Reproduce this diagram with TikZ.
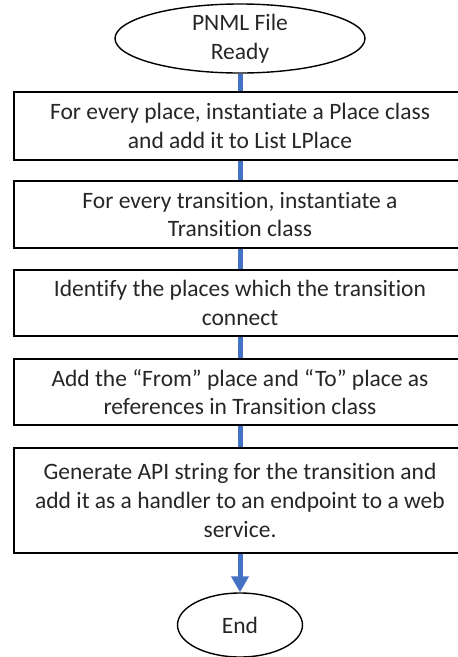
\documentclass[tikz,border=0pt]{standalone}
\usepackage{fontspec}
\setmainfont{Carlito}[Ligatures=NoCommon]
\usetikzlibrary{shapes.geometric,arrows.meta}
\definecolor{flowblue}{HTML}{4472C4}
\begin{document}
\begin{tikzpicture}[x=1pt,y=-1pt,
  every node/.style={font=\fontsize{23.5}{28.7}\selectfont, text=black!85, align=center, inner sep=0pt},
  stepbox/.style={draw=black, line width=1.4pt, rectangle, minimum width=452pt},
  terminal/.style={draw=black, line width=1.4pt, ellipse},
  flow/.style={draw=flowblue, line width=5pt}]
\useasboundingbox (0,0) rectangle (458,657);

% start and end terminals
\node[terminal, minimum width=250pt, minimum height=67pt] (start) at (240,38.5) {PNML File\\Ready};
\node[terminal, minimum width=125pt, minimum height=64pt] (finish) at (240,625) {End};

% processing steps
\node[stepbox, minimum height=68pt] (s1) at (240,126)
  {For every place, instantiate a Place class\\and add it to List LPlace};
\node[stepbox, minimum height=67pt] (s2) at (240,214.5)
  {For every transition, instantiate a\\Transition class};
\node[stepbox, minimum height=66pt] (s3) at (240,303)
  {Identify the places which the transition\\connect};
\node[stepbox, minimum height=66pt] (s4) at (240,392)
  {Add the “From” place and “To” place as\\references in Transition class};
\node[stepbox, minimum height=105pt] (s5) at (240,500.5)
  {Generate API string for the transition and\\add it as a handler to an endpoint to a web\\service.};

% connectors
\draw[flow] (start.south) -- (s1.north);
\draw[flow] (s1.south) -- (s2.north);
\draw[flow] (s2.south) -- (s3.north);
\draw[flow] (s3.south) -- (s4.north);
\draw[flow] (s4.south) -- (s5.north);
\draw[flow, -{Triangle[width=17pt,length=16pt]}] (s5.south) -- (finish.north);
\end{tikzpicture}
\end{document}
